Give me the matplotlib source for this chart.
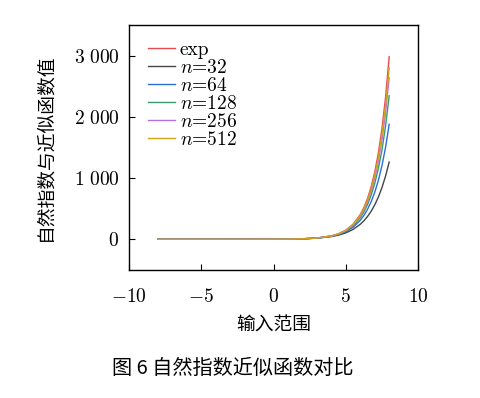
import matplotlib
matplotlib.use("Agg")
import matplotlib.pyplot as plt

# =========================
# fonts
# =========================
plt.rcParams['font.family'] = ['cmr10', 'Noto Sans CJK SC', 'DejaVu Sans']
plt.rcParams['mathtext.fontset'] = 'cm'
plt.rcParams['axes.unicode_minus'] = False

# =========================
# data
# =========================
x = [-8, -6, -4, -2, 0, 1, 2, 3, 4, 4.5, 5, 5.5, 6,
     6.25, 6.5, 6.75, 7, 7.25, 7.5, 7.75, 8]

y_exp = [0.0, 0.0, 0.02, 0.14, 1.0, 2.72, 7.39, 20.1, 54.6, 90.0, 148.4, 244.7, 403.4,
         518.0, 665.1, 854.1, 1096.6, 1408.1, 1808.0, 2321.6, 2981.0]
y_32 = [0.0, 0.0, 0.01, 0.13, 1.0, 2.68, 6.96, 17.6, 43.4, 67.4, 104.1, 160.0, 244.5,
        301.6, 371.5, 457.0, 561.4, 688.8, 843.9, 1032.8, 1262.2]
y_64 = [0.0, 0.0, 0.02, 0.13, 1.0, 2.70, 7.17, 18.8, 48.4, 77.4, 123.3, 195.7, 309.6,
        388.9, 488.2, 612.4, 767.4, 961.1, 1202.4, 1503.3, 1878.3]
y_128 = [0.0, 0.0, 0.02, 0.13, 1.0, 2.71, 7.28, 19.4, 51.3, 83.3, 134.9, 218.1, 352.0,
         446.8, 567.0, 719.1, 911.6, 1155.3, 1457.2, 1852.6, 2344.7]
y_256 = [0.0, 0.0, 0.02, 0.13, 1.0, 2.71, 7.33, 19.7, 52.9, 86.6, 141.4, 230.8, 376.4,
         480.6, 613.3, 782.6, 998.3, 1273.2, 1623.4, 2069.3, 2637.4]
y_512 = [0.0, 0.0, 0.02, 0.14, 1.0, 2.72, 7.36, 19.9, 53.8, 88.3, 144.9, 237.6, 389.6,
         498.8, 638.5, 817.2, 1045.9, 1338.3, 1712.4, 2190.6, 2802.2]

labels = ['exp', '$n$=32', '$n$=64', '$n$=128', '$n$=256', '$n$=512']
colors = ['#e8484e', '#454545', '#2b6fd6', '#3a9a6c', '#b073e6', '#d6a21a']

xticks = [-10, -5, 0, 5, 10]
xticklabels = ['$-10$', '$-5$', '$0$', '$5$', '$10$']
yticks = [0, 1000, 2000, 3000]
yticklabels = ['$0$', r'$1\ 000$', r'$2\ 000$', r'$3\ 000$']

# =========================
# plot
# =========================
fig = plt.figure(figsize=(4.8, 3.98), dpi=100)
ax = fig.add_axes([0.269, 0.322, 0.602, 0.615])

for ys, lab, c in zip([y_exp, y_32, y_64, y_128, y_256, y_512], labels, colors):
    ax.plot(x, ys, color=c, lw=1.0, label=lab)

ax.set_xlim(-10, 10)
ax.set_ylim(-500, 3500)
ax.set_xticks(xticks)
ax.set_xticklabels(xticklabels)
ax.set_yticks(yticks)
ax.set_yticklabels(yticklabels)
ax.tick_params(direction='in', length=4, width=0.8, labelsize=14)
ax.tick_params(axis='x', pad=13)
ax.tick_params(axis='y', pad=7)
for s in ax.spines.values():
    s.set_linewidth(1.0)

ax.set_xlabel('输入范围', fontsize=13.5, family=['Noto Sans CJK SC'], labelpad=6)
ax.set_ylabel('自然指数与近似函数值', fontsize=13.5, family=['Noto Sans CJK SC'], labelpad=13)

ax.legend(loc='upper left', bbox_to_anchor=(0.01, 1.0), frameon=False,
          fontsize=14, handlelength=1.4, handletextpad=0.25, labelspacing=0.0,
          borderaxespad=0.4)

fig.text(0.485, 0.075, '图 6 自然指数近似函数对比', fontsize=14.5,
         family=['Noto Sans CJK SC', 'cmr10'], ha='center', va='center')

fig.savefig('out.png', dpi=100)
